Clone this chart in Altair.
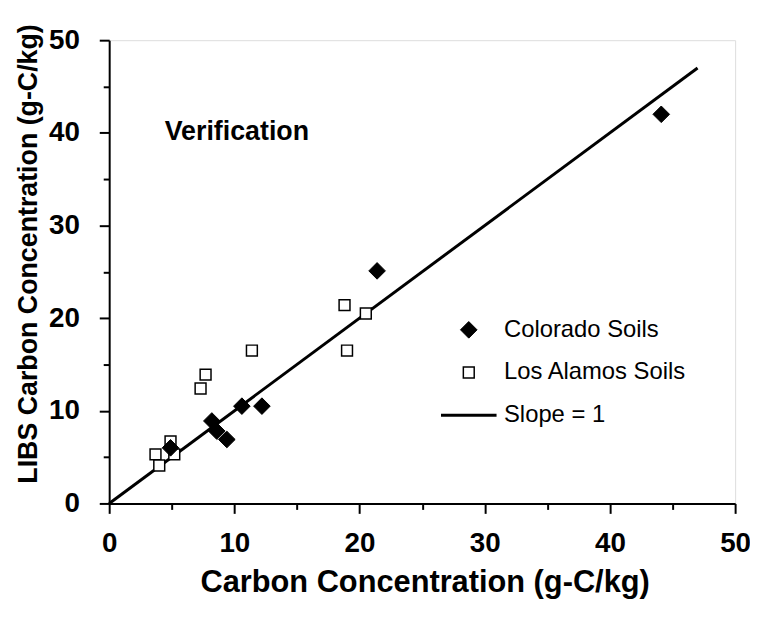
import altair as alt
import pandas as pd

# Colorado Soils (filled diamonds)
colorado_x = [44.1, 21.4, 12.2, 10.6, 8.2, 8.6, 9.4, 4.9]
colorado_y = [42.0, 25.1, 10.5, 10.5, 8.9, 7.8, 6.9, 6.0]

# Los Alamos Soils (open squares)
los_alamos_x = [19.0, 18.8, 20.5, 11.4, 7.7, 7.3, 4.9, 3.7, 5.2, 4.0]
los_alamos_y = [16.5, 21.4, 20.5, 16.5, 13.9, 12.4, 6.7, 5.3, 5.3, 4.1]

# Slope = 1 reference line
line_x = [0, 47]
line_y = [0, 47]

series_names = ["Colorado Soils", "Los Alamos Soils", "Slope = 1"]
tick_values = [0, 5, 10, 15, 20, 25, 30, 35, 40, 45, 50]

pts = pd.DataFrame({
    "x": los_alamos_x + colorado_x,
    "y": los_alamos_y + colorado_y,
    "series": ["Los Alamos Soils"] * len(los_alamos_x) + ["Colorado Soils"] * len(colorado_x),
})
line_df = pd.DataFrame({"x": line_x, "y": line_y})

FONT = "Liberation Sans"
tick_size = {"condition": {"test": "datum.value % 10 === 0", "value": 10}, "value": 6}
label_expr = "datum.value % 10 === 0 ? datum.label : ''"

x_axis = alt.Axis(
    values=tick_values, labelExpr=label_expr, grid=False,
    tickSize=tick_size, tickWidth=2, tickColor="black",
    domainColor="black", domainWidth=2,
    labelFont=FONT, labelFontSize=28, labelFontWeight="bold", labelColor="black",
    labelPadding=16, labelFlush=False, labelOverlap=False,
    title="Carbon Concentration (g-C/kg)", titleFont=FONT, titleFontSize=31,
    titleFontWeight="bold", titleColor="black", titleBaseline="alphabetic",
    titleX=318, titleY=89,
)
y_axis = alt.Axis(
    values=tick_values, labelExpr=label_expr, grid=False,
    tickSize=tick_size, tickWidth=2, tickColor="black",
    domainColor="black", domainWidth=2,
    labelFont=FONT, labelFontSize=28, labelFontWeight="bold", labelColor="black",
    labelPadding=20, labelFlush=False, labelOverlap=False,
    title="LIBS Carbon Concentration (g-C/kg)", titleFont=FONT, titleFontSize=27,
    titleFontWeight="bold", titleColor="black", titleBaseline="alphabetic",
    titleAngle=270, titleAlign="center", titleX=-73, titleY=215,
)

xs = alt.Scale(domain=[0, 50], nice=False)
ys = alt.Scale(domain=[0, 50], nice=False)

line = alt.Chart(line_df).mark_line(color="black", strokeWidth=3).encode(
    x=alt.X("x:Q", scale=xs, axis=x_axis),
    y=alt.Y("y:Q", scale=ys, axis=y_axis),
)

legend = alt.Legend(
    title=None, orient="none", legendX=333, legendY=280, padding=0,
    labelFont=FONT, labelFontSize=24, labelColor="black", labelOffset=6,
    labelLimit=0, rowPadding=19, symbolOpacity=1, clipHeight=24,
    labelExpr="datum.label == 'Slope = 1' ? '\u00a0Slope = 1' : datum.label",
)

points = alt.Chart(pts).mark_point(opacity=1, stroke="black", fillOpacity=1).encode(
    x=alt.X("x:Q", scale=xs, axis=x_axis),
    y=alt.Y("y:Q", scale=ys, axis=y_axis),
    shape=alt.Shape("series:N", scale=alt.Scale(domain=series_names, range=["diamond", "square", "stroke"]), legend=legend),
    fill=alt.Fill("series:N", scale=alt.Scale(domain=series_names, range=["black", "white", "black"]), legend=legend),
    size=alt.Size("series:N", scale=alt.Scale(domain=series_names, range=[280, 120, 3136], type="ordinal"), legend=legend),
    strokeWidth=alt.StrokeWidth("series:N", scale=alt.Scale(domain=series_names, range=[1, 1.5, 3], type="ordinal"), legend=legend),
)

chart = alt.layer(line, points).properties(
    width=631, height=467,
    title=alt.TitleParams(
        "Verification", anchor="start", frame="group", orient="top", offset=0,
        dx=56, dy=144, baseline="alphabetic", font=FONT, fontSize=27,
        fontWeight="bold", color="black",
    ),
    autosize=alt.AutoSizeParams(type="none"),
    padding={"left": 102, "top": 30, "right": 15, "bottom": 107},
).configure_view(stroke="black", strokeWidth=1.5).configure(background="white")

chart.save("out.html", embed_options={"renderer": "svg", "actions": False})
